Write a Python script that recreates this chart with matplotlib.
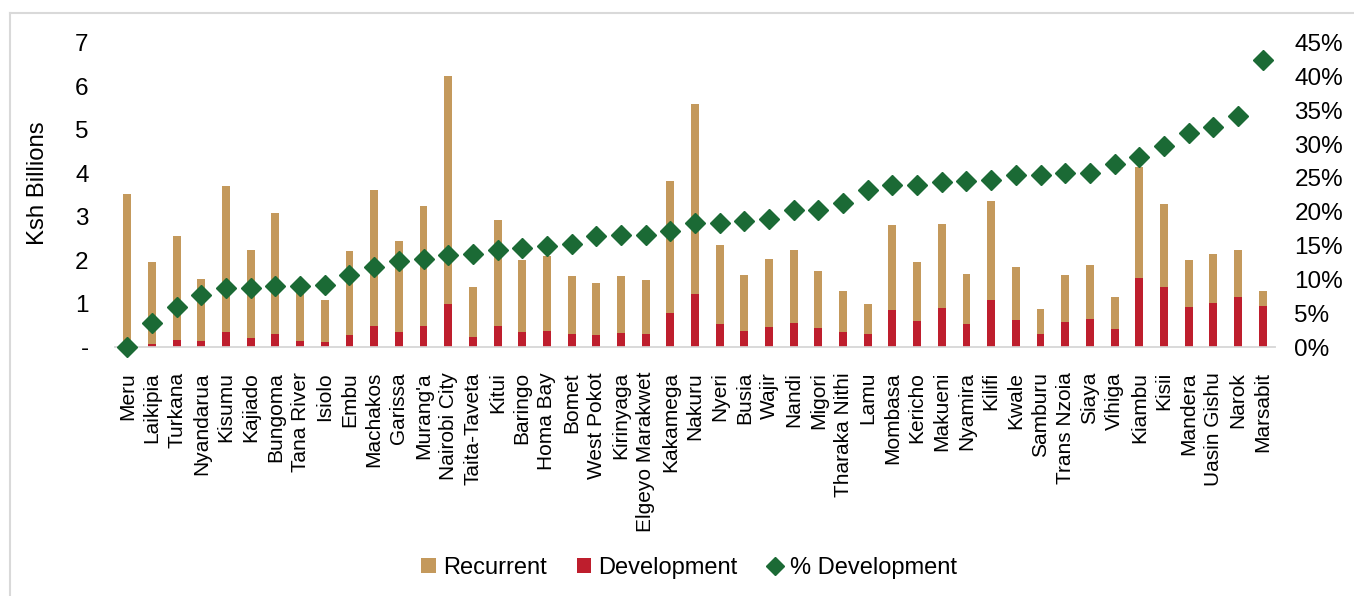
import matplotlib

matplotlib.use("Agg")
import matplotlib.pyplot as plt  # noqa: E402
import numpy as np  # noqa: E402
from matplotlib.lines import Line2D  # noqa: E402
from matplotlib.patches import Patch  # noqa: E402
from matplotlib.ticker import FuncFormatter  # noqa: E402

plt.rcParams["font.family"] = ["Liberation Sans", "DejaVu Sans"]

COUNTIES = [
    "Meru", "Laikipia", "Turkana", "Nyandarua", "Kisumu", "Kajiado", "Bungoma",
    "Tana River", "Isiolo", "Embu", "Machakos", "Garissa", "Murang'a",
    "Nairobi City", "Taita-Taveta", "Kitui", "Baringo", "Homa Bay", "Bomet",
    "West Pokot", "Kirinyaga", "Elgeyo Marakwet", "Kakamega", "Nakuru", "Nyeri",
    "Busia", "Wajir", "Nandi", "Migori", "Tharaka Nithi", "Lamu", "Mombasa",
    "Kericho", "Makueni", "Nyamira", "Kilifi", "Kwale", "Samburu", "Trans Nzoia",
    "Siaya", "Vihiga", "Kiambu", "Kisii", "Mandera", "Uasin Gishu", "Narok",
    "Marsabit",
]
# Ksh billions
RECURRENT = [
    3.52, 1.96, 2.56, 1.57, 3.70, 2.24, 3.08, 1.42, 1.09, 2.20, 3.61, 2.43, 3.25,
    6.24, 1.38, 2.93, 2.01, 2.09, 1.63, 1.47, 1.63, 1.54, 3.82, 5.59, 2.34, 1.66,
    2.02, 2.22, 1.74, 1.28, 0.99, 2.81, 1.95, 2.82, 1.67, 3.36, 1.85, 0.88, 1.65,
    1.88, 1.15, 4.15, 3.30, 2.01, 2.13, 2.24, 1.28,
]
DEVELOPMENT = [
    0.00, 0.08, 0.16, 0.14, 0.34, 0.21, 0.31, 0.14, 0.11, 0.27, 0.48, 0.34, 0.48,
    0.98, 0.22, 0.48, 0.34, 0.37, 0.30, 0.28, 0.32, 0.30, 0.78, 1.23, 0.52, 0.37,
    0.47, 0.56, 0.44, 0.34, 0.30, 0.86, 0.60, 0.90, 0.53, 1.09, 0.62, 0.30, 0.57,
    0.64, 0.42, 1.59, 1.37, 0.92, 1.01, 1.15, 0.94,
]
PCT_DEVELOPMENT = [
    0.000, 0.035, 0.059, 0.077, 0.087, 0.087, 0.090, 0.090, 0.091, 0.106, 0.118,
    0.127, 0.130, 0.136, 0.138, 0.143, 0.147, 0.150, 0.153, 0.164, 0.166, 0.166,
    0.172, 0.183, 0.184, 0.186, 0.189, 0.203, 0.203, 0.213, 0.232, 0.239, 0.239,
    0.244, 0.246, 0.247, 0.254, 0.255, 0.257, 0.257, 0.270, 0.281, 0.297, 0.316,
    0.326, 0.342, 0.425,
]

TAN = "#C4995C"
RED = "#BE1E2D"
GREEN = "#1B6A35"
GRID_GREY = "#D9D9D9"
TICK_FS = 17.5
CAT_FS = 15

W, H = 1354, 596
fig = plt.figure(figsize=(W / 100, H / 100), dpi=100)
ax = fig.add_axes([115 / W, 1 - 347 / H, 1160 / W, 304.3 / H])
ax2 = ax.twinx()

x = np.arange(len(COUNTIES))
ax.bar(x, RECURRENT, width=0.32, color=TAN, zorder=2)
ax.bar(x, DEVELOPMENT, width=0.32, color=RED, zorder=3)
ax2.plot(x, PCT_DEVELOPMENT, linestyle="none", marker="D", markersize=10.5,
         color=GREEN, clip_on=False, zorder=5)

ax.set_xlim(-0.5, len(COUNTIES) - 0.5)
ax.set_ylim(0, 7)
ax2.set_ylim(0, 0.45)

ax.set_yticks(range(0, 8))
ax.set_yticklabels(["-"] + [str(v) for v in range(1, 8)], fontsize=TICK_FS)
ax2.set_yticks(np.arange(0, 0.451, 0.05))
ax2.yaxis.set_major_formatter(FuncFormatter(lambda v, _: f"{v:.0%}"))
ax2.tick_params(axis="y", labelsize=TICK_FS, length=0, pad=14)
ax.tick_params(axis="y", length=0, pad=19)
ax.set_xticks(x)
ax.set_xticklabels(COUNTIES, rotation=90, fontsize=CAT_FS)
ax.tick_params(axis="x", length=0, pad=18)
ax.set_ylabel("Ksh Billions", fontsize=17.2)
ax.yaxis.set_label_coords((49 - 115) / 1160, (347 - 183) / 304.3)

for a in (ax, ax2):
    for side in ("top", "left", "right"):
        a.spines[side].set_visible(False)
    a.spines["bottom"].set_color(GRID_GREY)
    a.spines["bottom"].set_linewidth(1.2)
ax.spines["bottom"].set_zorder(1)

handles = [
    Patch(facecolor=TAN, label="Recurrent"),
    Patch(facecolor=RED, label="Development"),
    Line2D([], [], linestyle="none", marker="D", markersize=9, color=GREEN,
           label="% Development"),
]
fig.legend(handles=handles, loc="center", bbox_to_anchor=(689 / W, 1 - 568 / H),
           ncol=3, frameon=False, fontsize=17, handlelength=0.6, handleheight=0.6,
           handletextpad=0.3, columnspacing=1.3)

# thin frame along the left and top edges
fig.add_artist(Line2D([10 / W, 10 / W], [0, 1 - 13 / H], color=GRID_GREY, lw=1.5))
fig.add_artist(Line2D([10 / W, 1], [1 - 13 / H, 1 - 13 / H], color=GRID_GREY, lw=1.5))

fig.savefig("out.png", dpi=100)
